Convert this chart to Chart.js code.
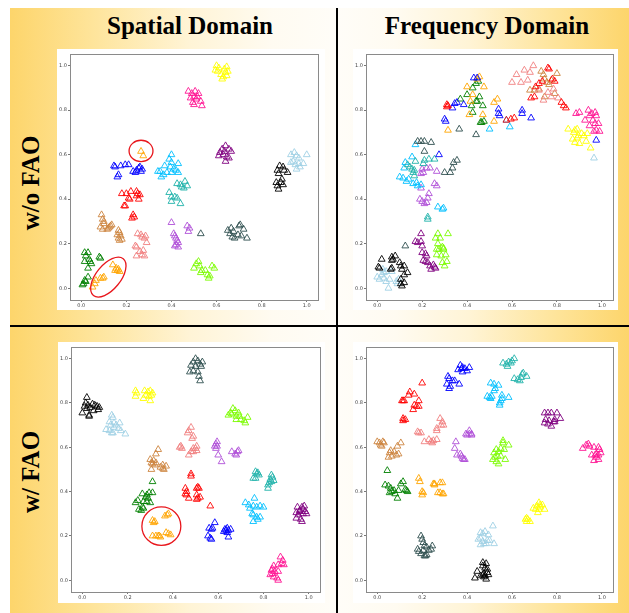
<!DOCTYPE html>
<html>
<head>
<meta charset="utf-8">
<script src="https://cdn.jsdelivr.net/npm/chart.js@4.4.0/dist/chart.umd.min.js"></script>
<style>
body { margin: 0; width: 629px; height: 613px; position: relative; overflow: hidden; background: #fff; }
.half { position: absolute; top: 8px; height: 605px; }
.left { left: 10px; width: 327px; background: linear-gradient(to right, #fdd56b 0%, #fee49a 25%, #fff4d6 55%, #fffbf1 80%, #fffdf8 100%); }
.right { left: 337px; width: 292px; background: linear-gradient(to left, #fdd56b 0%, #fee49a 25%, #fff4d6 55%, #fffbf1 80%, #fffdf8 100%); }
.vline { position: absolute; left: 336px; top: 8px; width: 2px; height: 605px; background: #000; }
.hline { position: absolute; left: 10px; top: 325px; width: 619px; height: 2px; background: #000; }
.panel { position: absolute; background: #fff; }
.title, .row { position: absolute; font-family: "Liberation Serif", "Times New Roman", serif; font-weight: bold; font-size: 25px; color: #000; white-space: nowrap; }
.title { top: 12px; transform: translateX(-50%); }
.row { transform: translate(-50%, -50%) rotate(-90deg); }
</style>
</head>
<body>
<div class="half left"></div>
<div class="half right"></div>
<div class="vline"></div>
<div class="hline"></div>
<div class="title" style="left:190px">Spatial Domain</div>
<div class="title" style="left:487px">Frequency Domain</div>
<div class="row" style="left:31px;top:183px">w/o FAO</div>
<div class="row" style="left:31px;top:472px">w/ FAO</div>

<div class="panel" style="left:57px;top:49px;width:268px;height:261px"><canvas id="c1" width="268" height="261"></canvas></div>
<div class="panel" style="left:353px;top:49px;width:265px;height:261px"><canvas id="c2" width="265" height="261"></canvas></div>
<div class="panel" style="left:58px;top:342px;width:267px;height:261px"><canvas id="c3" width="267" height="261"></canvas></div>
<div class="panel" style="left:353px;top:342px;width:265px;height:261px"><canvas id="c4" width="265" height="261"></canvas></div>

<script>
// class names and their marker colours
const classes = ['black', 'darkslategray', 'lightblue', 'yellow', 'lawngreen', 'lightcoral', 'peru', 'mediumorchid',
  'red', 'green', 'orange', 'blue', 'deepskyblue', 'lightseagreen', 'purple', 'deeppink'];
const classColours = ['#000000', '#2f4f4f', '#9fd0e4', '#ffff00', '#7cfc00', '#f08080', '#cd853f', '#b050d8',
  '#ff0000', '#008000', '#ffa500', '#0000ff', '#00bfff', '#20b2aa', '#800080', '#ff1493'];

const tickValues = [0, 0.2, 0.4, 0.6, 0.8, 1.0];

// spatial domain, w/o FAO
const spatialWithout = {
  yellow: [[0.60,1.0],[0.595,0.98],[0.61,0.99],[0.62,0.96],[0.635,0.985],[0.645,0.995],[0.64,0.97],[0.65,0.975],[0.63,0.95],[0.625,0.94],[0.645,0.955],[0.605,0.975]],
  deeppink: [[0.475,0.885],[0.49,0.875],[0.505,0.885],[0.52,0.875],[0.50,0.86],[0.485,0.855],[0.51,0.85],[0.495,0.835],[0.53,0.84],[0.535,0.82],[0.50,0.825],[0.515,0.86]],
  purple: [[0.615,0.61],[0.625,0.625],[0.64,0.64],[0.655,0.625],[0.665,0.615],[0.63,0.60],[0.645,0.59],[0.655,0.585],[0.64,0.57],[0.61,0.595],[0.635,0.615]],
  lightblue: [[0.93,0.60],[0.945,0.61],[0.955,0.595],[0.965,0.585],[1.0,0.60],[0.94,0.57],[0.95,0.555],[0.965,0.56],[0.97,0.545],[0.985,0.56],[0.955,0.535],[0.93,0.565]],
  black: [[0.88,0.55],[0.87,0.53],[0.895,0.545],[0.875,0.515],[0.90,0.53],[0.915,0.52],[0.89,0.49],[0.865,0.475],[0.885,0.475],[0.895,0.465],[0.875,0.445],[0.87,0.46]],
  deepskyblue: [[0.40,0.60],[0.39,0.58],[0.40,0.565],[0.43,0.56],[0.395,0.545],[0.37,0.55],[0.41,0.535],[0.35,0.525],[0.34,0.525],[0.365,0.51],[0.355,0.50],[0.38,0.52],[0.42,0.53],[0.43,0.52],[0.40,0.52]],
  blue: [[0.145,0.55],[0.15,0.545],[0.175,0.55],[0.195,0.555],[0.21,0.555],[0.165,0.51],[0.16,0.50],[0.23,0.525],[0.245,0.53],[0.255,0.54],[0.26,0.545],[0.27,0.535],[0.24,0.52],[0.265,0.525]],
  orange: [[0.265,0.615],[0.275,0.595],[0.05,0.005],[0.06,0.02],[0.065,0.035],[0.085,0.045],[0.10,0.05],[0.095,0.045],[0.14,0.105],[0.155,0.09],[0.16,0.08],[0.165,0.085],[0.17,0.075],[0.15,0.08]],
  red: [[0.18,0.425],[0.20,0.425],[0.22,0.435],[0.245,0.435],[0.25,0.425],[0.26,0.42],[0.21,0.405],[0.215,0.40],[0.245,0.415],[0.255,0.40],[0.19,0.37],[0.195,0.37],[0.23,0.33],[0.235,0.32],[0.225,0.315]],
  lightseagreen: [[0.425,0.47],[0.44,0.465],[0.46,0.48],[0.445,0.455],[0.47,0.46],[0.455,0.45],[0.39,0.43],[0.40,0.41],[0.415,0.41],[0.425,0.405],[0.40,0.39],[0.44,0.38]],
  peru: [[0.09,0.33],[0.095,0.31],[0.10,0.29],[0.085,0.275],[0.095,0.265],[0.115,0.265],[0.125,0.275],[0.13,0.28],[0.135,0.285],[0.10,0.30],[0.12,0.27],[0.165,0.26],[0.17,0.25],[0.16,0.24],[0.165,0.225],[0.175,0.235],[0.17,0.215],[0.18,0.22]],
  lightcoral: [[0.25,0.245],[0.265,0.24],[0.27,0.23],[0.28,0.225],[0.285,0.235],[0.29,0.205],[0.24,0.19],[0.245,0.185],[0.26,0.165],[0.275,0.17],[0.27,0.15],[0.245,0.145],[0.28,0.145]],
  mediumorchid: [[0.40,0.295],[0.47,0.28],[0.48,0.27],[0.475,0.255],[0.41,0.245],[0.415,0.235],[0.42,0.225],[0.425,0.215],[0.43,0.205],[0.42,0.195],[0.415,0.19],[0.43,0.185]],
  darkslategray: [[0.53,0.245],[0.65,0.26],[0.665,0.27],[0.675,0.255],[0.70,0.28],[0.705,0.285],[0.72,0.265],[0.67,0.23],[0.68,0.225],[0.695,0.24],[0.71,0.235],[0.735,0.225],[0.66,0.245]],
  lawngreen: [[0.51,0.11],[0.52,0.12],[0.525,0.10],[0.50,0.09],[0.535,0.08],[0.53,0.07],[0.55,0.08],[0.56,0.06],[0.565,0.045],[0.57,0.055],[0.58,0.10],[0.59,0.09]],
  green: [[0.015,0.16],[0.03,0.16],[0.02,0.145],[0.035,0.13],[0.04,0.12],[0.015,0.12],[0.045,0.11],[0.03,0.09],[0.08,0.14],[0.085,0.135],[0.03,0.05],[0.015,0.035],[0.02,0.03],[0.005,0.015],[0.01,0.02]]
};

// frequency domain, w/o FAO
const frequencyWithout = {
  red: [[0.31,0.825],[0.31,0.815],[0.315,0.82],[0.575,0.755],[0.595,0.76],[0.61,0.765],[0.685,0.855],[0.70,0.86],[0.705,0.905],[0.72,0.92],[0.735,0.93],[0.76,0.99],[0.765,0.985],[0.78,0.94],[0.79,0.93],[0.82,0.835],[0.83,0.82],[0.84,0.81]],
  lightcoral: [[0.60,0.925],[0.62,0.96],[0.655,0.98],[0.68,0.97],[0.695,1.0],[0.67,0.935],[0.64,0.925],[0.72,0.89],[0.74,0.845],[0.76,0.88],[0.785,0.895],[0.805,0.855],[0.775,0.86]],
  peru: [[0.73,0.975],[0.74,0.96],[0.745,0.94],[0.755,0.925],[0.70,0.89],[0.68,0.89],[0.80,0.965],[0.775,0.935],[0.765,0.915],[0.745,0.86],[0.79,0.875],[0.72,0.895]],
  deeppink: [[0.885,0.785],[0.90,0.79],[0.94,0.80],[0.955,0.785],[0.97,0.79],[0.975,0.775],[0.945,0.775],[0.925,0.755],[0.96,0.755],[0.985,0.74],[0.97,0.74],[0.945,0.73],[0.965,0.705],[0.99,0.705],[0.975,0.71]],
  yellow: [[0.85,0.715],[0.88,0.71],[0.89,0.715],[0.875,0.70],[0.91,0.695],[0.92,0.685],[0.935,0.695],[0.89,0.675],[0.87,0.67],[0.88,0.655],[0.90,0.65],[0.93,0.66],[0.95,0.63],[0.895,0.685]],
  blue: [[0.30,0.76],[0.305,0.75],[0.335,0.81],[0.345,0.83],[0.355,0.835],[0.385,0.825],[0.43,0.945],[0.445,0.945],[0.54,0.805],[0.54,0.785],[0.545,0.775],[0.645,0.80],[0.645,0.785],[0.685,0.765],[0.975,0.665],[0.275,0.60]],
  orange: [[0.455,0.95],[0.445,0.94],[0.40,0.905],[0.425,0.87],[0.415,0.84],[0.475,0.905],[0.47,0.78],[0.41,0.78],[0.52,0.835],[0.535,0.85],[0.52,0.75],[0.315,0.71]],
  green: [[0.37,0.85],[0.40,0.87],[0.425,0.90],[0.44,0.92],[0.45,0.93],[0.455,0.86],[0.44,0.84],[0.42,0.82],[0.47,0.82],[0.425,0.79],[0.46,0.745],[0.475,0.75],[0.465,0.745],[0.445,0.84]],
  darkslategray: [[0.365,0.715],[0.44,0.69],[0.18,0.66],[0.195,0.66],[0.21,0.66],[0.24,0.655],[0.21,0.615],[0.30,0.52],[0.325,0.52],[0.335,0.54],[0.34,0.565],[0.355,0.575],[0.125,0.19]],
  lightseagreen: [[0.135,0.555],[0.145,0.545],[0.155,0.535],[0.16,0.52],[0.165,0.53],[0.17,0.57],[0.21,0.575],[0.23,0.58],[0.255,0.58],[0.225,0.32],[0.225,0.31],[0.165,0.505],[0.205,0.56]],
  deepskyblue: [[0.17,0.645],[0.155,0.59],[0.125,0.565],[0.12,0.54],[0.10,0.50],[0.115,0.495],[0.13,0.48],[0.14,0.49],[0.175,0.475],[0.18,0.46],[0.195,0.465],[0.16,0.47],[0.27,0.365],[0.29,0.355],[0.295,0.36],[0.575,0.755],[0.59,0.725],[0.50,0.715]],
  mediumorchid: [[0.20,0.535],[0.22,0.54],[0.235,0.54],[0.265,0.525],[0.195,0.515],[0.205,0.52],[0.255,0.47],[0.265,0.46],[0.23,0.425],[0.225,0.405],[0.19,0.40],[0.20,0.39],[0.22,0.385],[0.21,0.38],[0.195,0.45]],
  purple: [[0.195,0.245],[0.17,0.21],[0.18,0.205],[0.195,0.21],[0.20,0.19],[0.20,0.16],[0.215,0.155],[0.22,0.145],[0.205,0.125],[0.215,0.12],[0.235,0.10],[0.25,0.105],[0.255,0.095],[0.24,0.085],[0.26,0.09],[0.225,0.115]],
  lawngreen: [[0.27,0.245],[0.26,0.225],[0.28,0.225],[0.315,0.245],[0.27,0.20],[0.265,0.175],[0.275,0.175],[0.29,0.185],[0.295,0.18],[0.265,0.15],[0.285,0.145],[0.305,0.15],[0.29,0.115],[0.30,0.10],[0.31,0.12],[0.295,0.175]],
  black: [[0.005,0.095],[0.01,0.09],[0.02,0.13],[0.065,0.125],[0.07,0.13],[0.065,0.14],[0.08,0.145],[0.06,0.085],[0.065,0.09],[0.10,0.115],[0.105,0.10],[0.12,0.10],[0.11,0.085],[0.12,0.06],[0.135,0.07],[0.105,0.04],[0.11,0.01],[0.105,0.02],[0.12,0.025]],
  lightblue: [[0.0,0.05],[0.02,0.06],[0.03,0.07],[0.04,0.075],[0.025,0.085],[0.01,0.04],[0.03,0.045],[0.04,0.03],[0.055,0.04],[0.05,0.0],[0.085,0.03],[0.09,0.02],[0.065,0.075],[0.095,0.04],[0.965,0.585]]
};

// spatial domain, w/ FAO
const spatialWith = {
  darkslategray: [[0.50,1.0],[0.51,0.99],[0.49,0.985],[0.52,0.975],[0.53,0.985],[0.48,0.97],[0.50,0.965],[0.525,0.965],[0.49,0.945],[0.51,0.94],[0.475,0.94],[0.515,0.92],[0.52,0.90]],
  yellow: [[0.235,0.855],[0.24,0.845],[0.235,0.83],[0.275,0.855],[0.29,0.85],[0.30,0.855],[0.28,0.835],[0.295,0.83],[0.305,0.835],[0.27,0.82],[0.30,0.81],[0.31,0.845]],
  black: [[0.02,0.825],[0.015,0.80],[0.025,0.79],[0.01,0.785],[0.02,0.775],[0.035,0.78],[0.045,0.795],[0.055,0.79],[0.065,0.785],[0.075,0.78],[0.07,0.77],[0.05,0.765],[0.0,0.755],[0.03,0.745],[0.03,0.74]],
  lightblue: [[0.13,0.745],[0.135,0.735],[0.12,0.715],[0.14,0.71],[0.125,0.70],[0.15,0.70],[0.165,0.71],[0.105,0.68],[0.12,0.675],[0.14,0.69],[0.16,0.685],[0.13,0.665],[0.135,0.665],[0.19,0.66],[0.17,0.675]],
  lawngreen: [[0.655,0.755],[0.665,0.775],[0.675,0.765],[0.645,0.745],[0.66,0.75],[0.69,0.755],[0.68,0.74],[0.68,0.725],[0.70,0.725],[0.695,0.74],[0.715,0.72],[0.73,0.735],[0.72,0.71]],
  lightcoral: [[0.48,0.69],[0.47,0.675],[0.465,0.665],[0.49,0.65],[0.485,0.64],[0.505,0.605],[0.49,0.58],[0.505,0.585],[0.50,0.595],[0.48,0.58],[0.47,0.565],[0.43,0.60],[0.44,0.595],[0.435,0.605],[0.49,0.595]],
  mediumorchid: [[0.595,0.625],[0.59,0.615],[0.595,0.605],[0.59,0.595],[0.585,0.605],[0.60,0.565],[0.615,0.535],[0.66,0.58],[0.675,0.57],[0.685,0.58],[0.69,0.585],[0.68,0.565]],
  peru: [[0.335,0.59],[0.325,0.57],[0.30,0.545],[0.305,0.53],[0.31,0.525],[0.325,0.53],[0.32,0.52],[0.305,0.50],[0.345,0.51],[0.355,0.52],[0.37,0.515],[0.355,0.505],[0.315,0.54],[0.36,0.50]],
  red: [[0.48,0.48],[0.48,0.47],[0.455,0.415],[0.46,0.40],[0.46,0.385],[0.47,0.37],[0.505,0.415],[0.51,0.42],[0.515,0.415],[0.505,0.385],[0.51,0.37],[0.52,0.375],[0.505,0.365],[0.565,0.335],[0.455,0.39]],
  green: [[0.31,0.445],[0.265,0.39],[0.285,0.385],[0.295,0.395],[0.31,0.395],[0.28,0.375],[0.29,0.37],[0.27,0.355],[0.285,0.355],[0.245,0.36],[0.235,0.35],[0.265,0.33],[0.25,0.32],[0.26,0.315],[0.27,0.325],[0.30,0.35]],
  orange: [[0.31,0.27],[0.32,0.265],[0.315,0.26],[0.365,0.29],[0.375,0.295],[0.38,0.30],[0.37,0.215],[0.39,0.205],[0.31,0.20],[0.325,0.20],[0.34,0.20],[0.345,0.195],[0.335,0.20],[0.38,0.21]],
  blue: [[0.585,0.26],[0.56,0.235],[0.57,0.23],[0.575,0.235],[0.555,0.20],[0.565,0.19],[0.57,0.185],[0.63,0.23],[0.64,0.235],[0.645,0.225],[0.655,0.23],[0.625,0.22],[0.64,0.215],[0.645,0.195],[0.635,0.225]],
  deepskyblue: [[0.76,0.37],[0.72,0.35],[0.735,0.34],[0.74,0.325],[0.755,0.335],[0.77,0.33],[0.785,0.335],[0.80,0.33],[0.75,0.30],[0.755,0.295],[0.77,0.285],[0.785,0.285],[0.775,0.275],[0.755,0.265]],
  lightseagreen: [[0.765,0.49],[0.77,0.48],[0.775,0.485],[0.755,0.46],[0.765,0.46],[0.78,0.475],[0.835,0.475],[0.84,0.465],[0.83,0.455],[0.845,0.45],[0.825,0.44],[0.82,0.43],[0.82,0.415],[0.835,0.445]],
  purple: [[0.95,0.33],[0.97,0.33],[0.98,0.335],[0.975,0.32],[0.96,0.315],[0.945,0.305],[0.955,0.295],[0.975,0.30],[0.99,0.30],[0.945,0.28],[0.965,0.275],[0.97,0.265],[0.985,0.31],[0.96,0.31]],
  deeppink: [[0.875,0.105],[0.885,0.09],[0.88,0.075],[0.89,0.07],[0.865,0.07],[0.845,0.065],[0.84,0.05],[0.835,0.045],[0.85,0.04],[0.865,0.04],[0.83,0.025],[0.845,0.015],[0.86,0.01],[0.865,0.0],[0.84,0.03]]
};

// frequency domain, w/ FAO
const frequencyWith = {
  lightseagreen: [[0.56,0.98],[0.575,0.975],[0.585,0.985],[0.60,0.99],[0.61,1.0],[0.595,0.98],[0.58,0.965],[0.61,0.91],[0.625,0.905],[0.635,0.90],[0.645,0.93],[0.65,0.935],[0.665,0.92],[0.64,0.915]],
  blue: [[0.37,0.97],[0.375,0.955],[0.38,0.96],[0.39,0.955],[0.40,0.945],[0.41,0.96],[0.36,0.95],[0.38,0.94],[0.315,0.92],[0.32,0.91],[0.335,0.90],[0.345,0.90],[0.31,0.885],[0.325,0.875],[0.32,0.865],[0.365,0.885]],
  deepskyblue: [[0.505,0.89],[0.52,0.885],[0.54,0.88],[0.525,0.865],[0.52,0.855],[0.49,0.83],[0.50,0.825],[0.51,0.83],[0.505,0.82],[0.555,0.835],[0.555,0.82],[0.55,0.81],[0.545,0.80],[0.585,0.825],[0.545,0.79]],
  purple: [[0.745,0.755],[0.76,0.755],[0.775,0.755],[0.80,0.755],[0.815,0.73],[0.75,0.725],[0.765,0.72],[0.785,0.715],[0.79,0.725],[0.745,0.71],[0.76,0.705],[0.775,0.695],[0.79,0.715]],
  red: [[0.20,0.89],[0.145,0.85],[0.14,0.835],[0.165,0.84],[0.185,0.81],[0.11,0.81],[0.115,0.81],[0.12,0.81],[0.165,0.79],[0.175,0.785],[0.185,0.785],[0.16,0.77],[0.115,0.73],[0.115,0.72],[0.125,0.725]],
  lightcoral: [[0.28,0.73],[0.29,0.715],[0.295,0.70],[0.285,0.70],[0.265,0.685],[0.265,0.675],[0.18,0.67],[0.185,0.665],[0.195,0.665],[0.21,0.625],[0.23,0.635],[0.24,0.625],[0.245,0.62],[0.265,0.635],[0.25,0.63]],
  peru: [[0.0,0.625],[0.01,0.62],[0.015,0.61],[0.025,0.625],[0.03,0.62],[0.02,0.605],[0.105,0.62],[0.09,0.605],[0.06,0.585],[0.055,0.575],[0.075,0.58],[0.085,0.565],[0.065,0.56],[0.05,0.555],[0.095,0.57]],
  mediumorchid: [[0.41,0.675],[0.395,0.66],[0.40,0.655],[0.41,0.66],[0.42,0.66],[0.42,0.655],[0.35,0.625],[0.345,0.595],[0.355,0.565],[0.37,0.57],[0.375,0.56],[0.38,0.55],[0.385,0.545],[0.39,0.545]],
  lawngreen: [[0.56,0.63],[0.56,0.62],[0.585,0.61],[0.53,0.59],[0.54,0.58],[0.55,0.595],[0.565,0.59],[0.52,0.575],[0.525,0.555],[0.535,0.56],[0.55,0.56],[0.57,0.545],[0.515,0.545],[0.53,0.535],[0.54,0.525]],
  deeppink: [[0.915,0.595],[0.93,0.61],[0.94,0.615],[0.945,0.605],[0.965,0.60],[0.985,0.60],[0.99,0.59],[0.995,0.575],[0.955,0.565],[0.97,0.565],[0.975,0.555],[0.965,0.54],[0.985,0.545],[0.985,0.565],[0.975,0.57]],
  green: [[0.045,0.495],[0.035,0.43],[0.05,0.425],[0.06,0.415],[0.055,0.395],[0.065,0.40],[0.075,0.405],[0.08,0.39],[0.095,0.405],[0.105,0.435],[0.115,0.445],[0.125,0.41],[0.13,0.405],[0.135,0.40],[0.09,0.37]],
  orange: [[0.185,0.46],[0.19,0.445],[0.20,0.40],[0.205,0.395],[0.20,0.385],[0.25,0.435],[0.255,0.43],[0.255,0.435],[0.28,0.44],[0.29,0.44],[0.27,0.395],[0.28,0.395],[0.29,0.39],[0.295,0.39]],
  yellow: [[0.72,0.35],[0.71,0.335],[0.725,0.34],[0.735,0.34],[0.695,0.325],[0.705,0.32],[0.72,0.32],[0.745,0.32],[0.715,0.305],[0.725,0.33],[0.665,0.28],[0.67,0.275],[0.68,0.265],[0.665,0.265],[0.66,0.275]],
  lightblue: [[0.515,0.245],[0.46,0.215],[0.47,0.21],[0.48,0.22],[0.495,0.205],[0.45,0.185],[0.46,0.19],[0.49,0.18],[0.50,0.18],[0.52,0.165],[0.46,0.16],[0.475,0.165],[0.485,0.165],[0.47,0.175]],
  darkslategray: [[0.195,0.20],[0.20,0.185],[0.205,0.17],[0.21,0.155],[0.22,0.15],[0.245,0.155],[0.18,0.14],[0.185,0.13],[0.205,0.135],[0.23,0.135],[0.24,0.14],[0.195,0.12],[0.21,0.11],[0.215,0.11],[0.22,0.115]],
  black: [[0.47,0.08],[0.485,0.075],[0.47,0.065],[0.48,0.055],[0.49,0.05],[0.445,0.04],[0.475,0.03],[0.47,0.025],[0.48,0.02],[0.495,0.025],[0.46,0.02],[0.475,0.015],[0.435,0.01],[0.485,0.005],[0.49,0.035]]
};

// red highlight rings (data units)
const spatialWithoutRings = [
  { x: 0.265, y: 0.617, rx: 0.053, ry: 0.048, rot: 0 },
  { x: 0.12, y: 0.05, rx: 0.105, ry: 0.055, rot: -0.89 }
];
const spatialWithRings = [
  { x: 0.349, y: 0.244, rx: 0.086, ry: 0.087, rot: 0 }
];

const frame = {
  id: 'frame',
  afterDraw(chart) {
    const a = chart.chartArea, ctx = chart.ctx;
    ctx.save();
    ctx.strokeStyle = '#8a8a8a';
    ctx.lineWidth = 1;
    ctx.strokeRect(Math.round(a.left) + 0.5, Math.round(a.top) + 0.5, Math.round(a.width), Math.round(a.height));
    ctx.restore();
  }
};

const rings = {
  id: 'rings',
  afterDatasetsDraw(chart, args, opts) {
    const ctx = chart.ctx, sx = chart.scales.x, sy = chart.scales.y;
    (opts.list || []).forEach(r => {
      const cx = sx.getPixelForValue(r.x), cy = sy.getPixelForValue(r.y);
      const rx = Math.abs(sx.getPixelForValue(r.x + r.rx) - cx);
      const ry = Math.abs(sy.getPixelForValue(r.y + r.ry) - cy);
      ctx.save();
      ctx.strokeStyle = '#e8161c';
      ctx.lineWidth = 1.3;
      ctx.beginPath();
      ctx.ellipse(cx, cy, rx, ry, r.rot, 0, Math.PI * 2);
      ctx.stroke();
      ctx.restore();
    });
  }
};

function makeChart(id, series, ringList, pad, xHeight) {
  const datasets = Object.keys(series).map(name => ({
    label: name,
    data: series[name].map(p => ({ x: p[0], y: p[1] })),
    pointStyle: 'triangle',
    pointRadius: 3.9,
    borderWidth: 0.9,
    borderColor: classColours[classes.indexOf(name)],
    backgroundColor: 'rgba(0,0,0,0)'
  }));
  const tickFont = { family: 'DejaVu Sans', size: 5 };
  return new Chart(document.getElementById(id), {
    type: 'scatter',
    data: { datasets },
    options: {
      responsive: false,
      animation: false,
      layout: { padding: pad },
      plugins: { legend: { display: false }, tooltip: { enabled: false }, rings: { list: ringList } },
      scales: {
        x: {
          min: -0.05, max: 1.05,
          afterBuildTicks: ax => { ax.ticks = tickValues.map(v => ({ value: v })); },
          afterFit: ax => { ax.height = xHeight; },
          ticks: { font: tickFont, color: '#444', padding: 1, maxRotation: 0, callback: v => v.toFixed(1) },
          grid: { drawOnChartArea: false, tickLength: 2, color: '#777' },
          border: { display: false }
        },
        y: {
          min: -0.053, max: 1.053,
          afterBuildTicks: ax => { ax.ticks = tickValues.map(v => ({ value: v })); },
          afterFit: ax => { ax.width = 13; },
          ticks: { font: tickFont, color: '#444', padding: 1, callback: v => v.toFixed(1) },
          grid: { drawOnChartArea: false, tickLength: 2, color: '#777' },
          border: { display: false }
        }
      }
    },
    plugins: [frame, rings]
  });
}

makeChart('c1', spatialWithout, spatialWithoutRings, { top: 2, right: 7, left: 0, bottom: 0 }, 10);
makeChart('c2', frequencyWithout, [], { top: 2, right: 2, left: 0, bottom: 0 }, 10);
makeChart('c3', spatialWith, spatialWithRings, { top: 3, right: 3, left: 0, bottom: 0 }, 11);
makeChart('c4', frequencyWith, [], { top: 3, right: 2, left: 0, bottom: 0 }, 11);
</script>
</body>
</html>
